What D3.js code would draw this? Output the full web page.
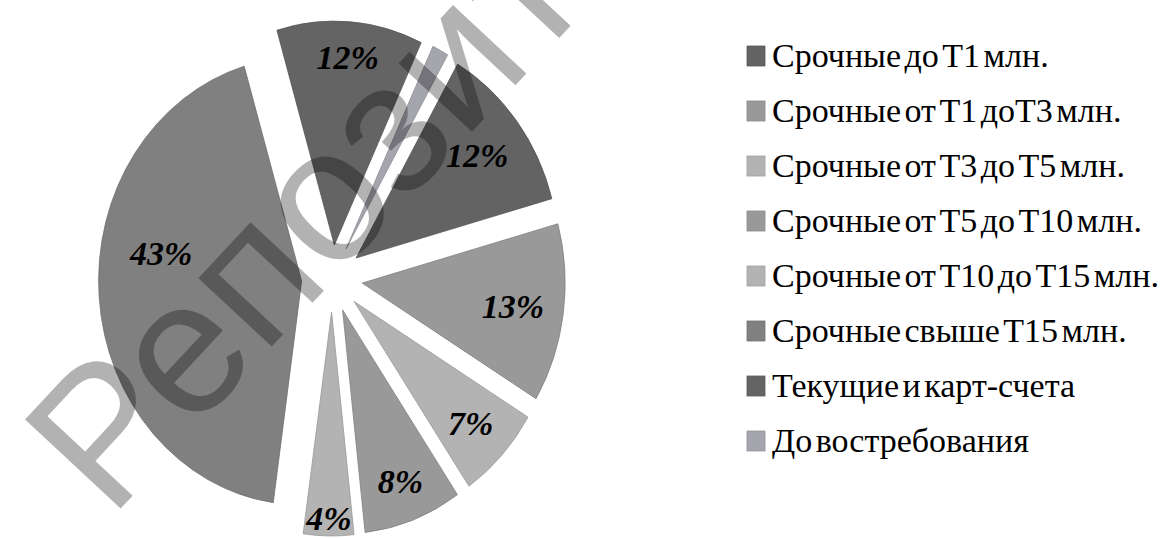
<!DOCTYPE html>
<html>
<head>
<meta charset="utf-8">
<script src="https://cdn.jsdelivr.net/npm/d3@7"></script>
<style>
  html, body { margin: 0; padding: 0; background: #fff; }
  svg { display: block; }
</style>
</head>
<body>
<svg id="chart" width="1173" height="538"></svg>
<script>
(function () {
  // data (clockwise from the first slice)
  const categories = [
    "Срочные до Т1 млн.",
    "Срочные от Т1 доТ3 млн.",
    "Срочные от Т3 до Т5 млн.",
    "Срочные от Т5 до Т10 млн.",
    "Срочные от Т10 до Т15 млн.",
    "Срочные свыше Т15 млн.",
    "Текущие и карт-счета",
    "До востребования"
  ];
  const shares = [12.4, 12.9, 6.8, 7.8, 4.0, 43.2, 11.6, 1.3];

  const colors = ["#636363", "#999999", "#b3b3b3", "#999999", "#b3b3b3", "#808080", "#646464", "#a5a5ae"];

  const svg = d3.select("#chart");

  // pie geometry (source picture is a bit stretched vertically)
  const cx = 332, cy = 278.5;
  const R = 203, ky = 1.103;
  const explode = 0.15;
  const startDeg = 30;

  const pie = d3.pie().sort(null).value(d => d)
    .startAngle(startDeg * Math.PI / 180)
    .endAngle(startDeg * Math.PI / 180 + 2 * Math.PI);
  const arcs = pie(shares);
  const arc = d3.arc().innerRadius(0).outerRadius(R);

  const g = svg.append("g").attr("transform", `translate(${cx},${cy}) scale(1,${ky})`);

  g.selectAll("path.slice")
    .data(arcs)
    .enter()
    .append("path")
    .attr("class", "slice")
    .attr("d", arc)
    .attr("transform", d => {
      const a = (d.startAngle + d.endAngle) / 2;
      return `translate(${explode * R * Math.sin(a)},${-explode * R * Math.cos(a)})`;
    })
    .attr("fill", (d, i) => colors[i])
    .attr("stroke", (d, i) => d3.color(colors[i]).darker(0.45))
    .attr("stroke-width", 0.8)
    .attr("vector-effect", "non-scaling-stroke");

  // data labels, "inside end"
  const fmt = v => Math.round(v) + "%";
  const labels = svg.append("g");
  arcs.forEach((d, i) => {
    if (d.data < 2) return;
    const t = labels.append("text")
      .attr("font-family", "'Liberation Serif', 'Times New Roman', serif")
      .attr("font-weight", "bold")
      .attr("font-style", "italic")
      .attr("font-size", 34)
      .attr("fill", "#000")
      .attr("text-anchor", "middle")
      .text(fmt(d.data));
    const hw = t.node().getComputedTextLength() / 2, hh = 13;
    let a = (d.startAngle + d.endAngle) / 2;
    let r = 1 - (Math.abs(Math.cos(a)) * hh / (R * ky) + Math.abs(Math.sin(a)) * hw / R) - 0.09;
    if (d.data > 40) { a += 12 * Math.PI / 180; r = 0.7; } // big slice label sits higher in the source
    if (d.data < 5) r += 0.07; // narrow slice: label pushed to the rim
    const x = cx + R * (explode + r) * Math.sin(a);
    const y = cy - R * ky * (explode + r) * Math.cos(a);
    t.attr("x", x).attr("y", y + 12);
  });

  // legend
  const ly = d3.scalePoint().domain(categories).range([56, 441]);
  const legend = svg.append("g");
  const items = legend.selectAll("g.item")
    .data(categories)
    .enter()
    .append("g")
    .attr("class", "item")
    .attr("transform", d => `translate(747,${ly(d)})`);
  items.append("rect")
    .attr("x", 0).attr("y", -10)
    .attr("width", 18).attr("height", 20)
    .attr("fill", (d, i) => colors[i])
    .attr("stroke", (d, i) => d3.color(colors[i]).darker(0.3))
    .attr("stroke-width", 0.8);
  items.append("text")
    .attr("x", 25).attr("y", 11)
    .attr("font-family", "'Liberation Serif', 'Times New Roman', serif")
    .attr("font-size", 34)
    .attr("word-spacing", -5)
    .attr("fill", "#000")
    .text(d => d);

  // watermark
  svg.append("text")
    .attr("transform", "translate(110,520) rotate(-47)")
    .attr("font-family", "'Liberation Sans', Arial, sans-serif")
    .attr("font-size", 190)
    .attr("fill", "#000")
    .attr("fill-opacity", 0.3)
    .text("Репозиторий");
})();
</script>
</body>
</html>
